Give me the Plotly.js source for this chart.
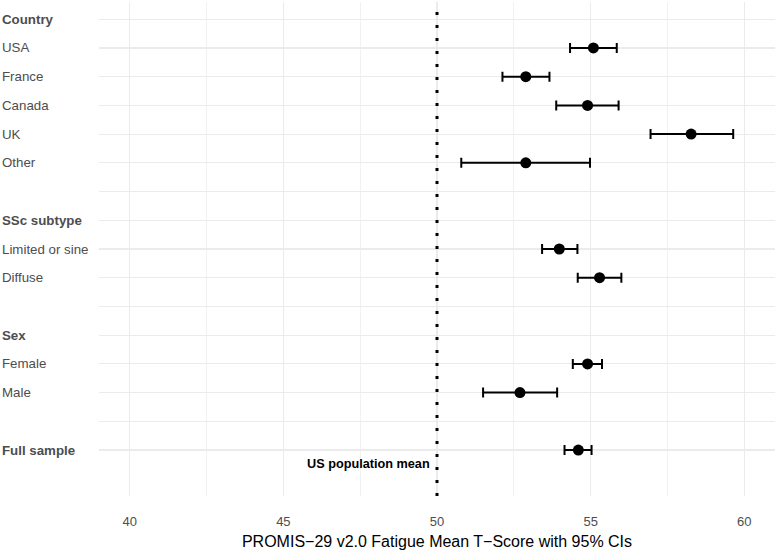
<!DOCTYPE html>
<html>
<head>
<meta charset="utf-8">
<script src="https://cdn.plot.ly/plotly-3.0.1.min.js"></script>
<style>html,body{margin:0;padding:0;background:#fff;}#chart{width:777px;height:550px;}</style>
</head>
<body>
<div id="chart"></div>
<script>
// Rows from top to bottom ("" = spacer row)
const rowLabels = ["Country","USA","France","Canada","UK","Other","","SSc subtype","Limited or sine","Diffuse","","Sex","Female","Male","","Full sample"];
const headerRows = ["Country","SSc subtype","Sex","Full sample"];
// Estimates (null = no point)
const means = [null,55.09,52.89,54.90,58.27,52.89,null,null,53.98,55.29,null,null,54.90,52.70,null,54.60];
const lower = [null,54.33,52.13,53.88,56.95,50.79,null,null,53.42,54.58,null,null,54.42,51.50,null,54.15];
const upper = [null,55.85,53.66,55.91,59.64,54.98,null,null,54.57,56.00,null,null,55.37,53.91,null,55.03];
const xTicks = [40,45,50,55,60];
const refValue = 50;
const refLabel = "US population mean";
const xTitle = "PROMIS\u221229 v2.0 Fatigue Mean T\u2212Score with 95% CIs";

const n = rowLabels.length;
const ypos = rowLabels.map((_, i) => n - i);
const px = [], py = [], ep = [], em = [];
means.forEach((m, i) => {
  if (m !== null) {
    px.push(m); py.push(ypos[i]);
    ep.push(upper[i] - m); em.push(m - lower[i]);
  }
});

const font = "'Liberation Sans', Arial, Helvetica, sans-serif";

const trace = {
  type: 'scatter', mode: 'markers', x: px, y: py,
  marker: {color: '#000', size: 11},
  error_x: {type: 'data', symmetric: false, array: ep, arrayminus: em, color: '#000', thickness: 2, width: 5},
  hoverinfo: 'x+y', showlegend: false
};

const annotations = rowLabels.map((lab, i) => ({
  xref: 'paper', yref: 'y', x: -0.147, y: ypos[i], xanchor: 'left', yanchor: 'middle',
  text: headerRows.includes(lab) ? '<b>' + lab + '</b>' : lab,
  showarrow: false, font: {family: font, size: 13.3, color: '#4d4d4d'}
})).filter(a => a.text !== '');
annotations.push({
  xref: 'x', yref: 'y', x: refValue - 0.15, y: 0.5, xanchor: 'right', yanchor: 'middle',
  text: '<b>' + refLabel + '</b>', showarrow: false, font: {family: font, size: 12.7, color: '#000'}
});

const layout = {
  width: 777, height: 550,
  margin: {l: 99, r: 2, t: 2, b: 54},
  paper_bgcolor: '#fff', plot_bgcolor: '#fff',
  font: {family: font, size: 13, color: '#4d4d4d'},
  xaxis: {
    range: [39, 61], tickvals: xTicks, ticktext: xTicks.map(String),
    showgrid: true, gridcolor: '#ebebeb', gridwidth: 1.1,
    minor: {dtick: 2.5, tick0: 40, showgrid: true, gridcolor: '#ededed', gridwidth: 0.8},
    zeroline: false, showline: false, ticks: '', ticklen: 0,
    ticklabelstandoff: 16,
    tickfont: {family: font, size: 13, color: '#4d4d4d'},
    title: {text: xTitle, font: {family: font, size: 16, color: '#000'}, standoff: 7}
  },
  yaxis: {
    range: [-0.6, n + 0.6], tickvals: ypos, showticklabels: false,
    showgrid: true, gridcolor: '#ebebeb', gridwidth: 1.1,
    zeroline: false, showline: false, ticks: ''
  },
  shapes: [{
    type: 'line', xref: 'x', yref: 'paper', x0: refValue, x1: refValue, y0: 0, y1: 1,
    line: {color: '#000', width: 3, dash: '3px,10px'}
  }],
  annotations: annotations
};

Plotly.newPlot('chart', [trace], layout, {displayModeBar: false, staticPlot: true});
</script>
</body>
</html>
